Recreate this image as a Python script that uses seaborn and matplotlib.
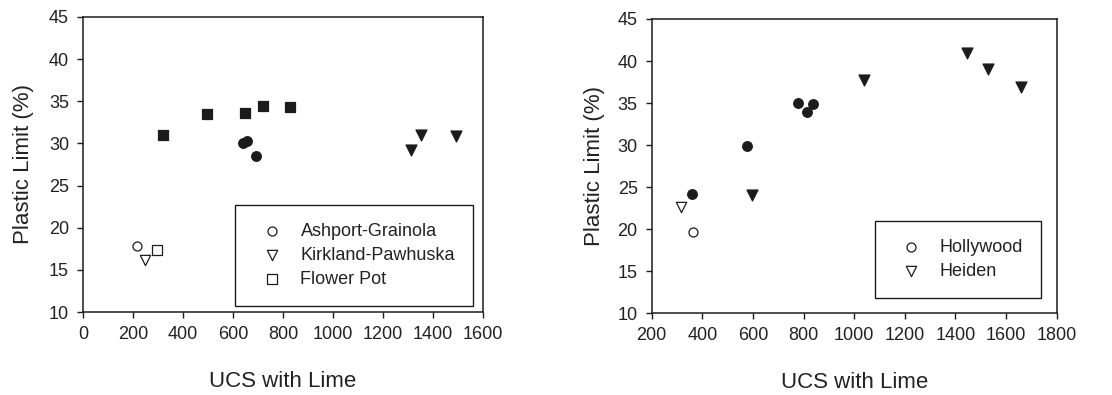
import matplotlib
matplotlib.use("Agg")
import matplotlib.pyplot as plt
import seaborn as sns

# Left panel: Ashport-Grainola, Kirkland-Pawhuska, Flower Pot
ag_raw_x = [215]
ag_raw_y = [17.8]
kp_raw_x = [250]
kp_raw_y = [16.2]
fp_raw_x = [295]
fp_raw_y = [17.3]

ag_lime_x = [641, 657, 692]
ag_lime_y = [30.1, 30.3, 28.5]
kp_lime_x = [1312, 1351, 1492]
kp_lime_y = [29.2, 31.0, 30.9]
fp_lime_x = [321, 497, 648, 719, 828]
fp_lime_y = [31.0, 33.5, 33.6, 34.4, 34.3]

# Right panel: Hollywood, Heiden
hw_raw_x = [364]
hw_raw_y = [19.7]
hd_raw_x = [315]
hd_raw_y = [22.7]

hw_lime_x = [360, 575, 779, 813, 839]
hw_lime_y = [24.2, 29.9, 35.0, 33.9, 34.85]
hd_lime_x = [595, 1039, 1447, 1527, 1660]
hd_lime_y = [24.1, 37.75, 40.9, 39.1, 36.9]

left_xticks = [0, 200, 400, 600, 800, 1000, 1200, 1400, 1600]
right_xticks = [200, 400, 600, 800, 1000, 1200, 1400, 1600, 1800]
yticks = [10, 15, 20, 25, 30, 35, 40, 45]

x_label = "UCS with Lime"
y_label = "Plastic Limit (%)"

sns.set_style("ticks")
plt.rcParams["font.family"] = ["Liberation Sans", "DejaVu Sans"]

INK = "#1c1c1c"
fig = plt.figure(figsize=(11.12, 3.95), dpi=100)
ax1 = fig.add_axes([0.0746, 0.2101, 0.3598, 0.7469])
ax2 = fig.add_axes([0.5860, 0.2068, 0.3643, 0.7451])

def pts(ax, x, y, marker, filled, size, label=None):
    sns.scatterplot(x=x, y=y, ax=ax, marker=marker, s=size,
                    color=INK if filled else "white",
                    edgecolor=INK, linewidth=0.9, label=label, zorder=3)

# filled markers: lime-treated samples
pts(ax1, ag_lime_x, ag_lime_y, "o", True, 48)
pts(ax1, kp_lime_x, kp_lime_y, "v", True, 62)
pts(ax1, fp_lime_x, fp_lime_y, "s", True, 52)
# open markers: untreated samples
pts(ax1, ag_raw_x, ag_raw_y, "o", False, 42, "Ashport-Grainola")
pts(ax1, kp_raw_x, kp_raw_y, "v", False, 55, "Kirkland-Pawhuska")
pts(ax1, fp_raw_x, fp_raw_y, "s", False, 46, "Flower Pot")

pts(ax2, hw_lime_x, hw_lime_y, "o", True, 48)
pts(ax2, hd_lime_x, hd_lime_y, "v", True, 62)
pts(ax2, hw_raw_x, hw_raw_y, "o", False, 42, "Hollywood")
pts(ax2, hd_raw_x, hd_raw_y, "v", False, 55, "Heiden")

for ax, xt, anchor, ypad in ((ax1, left_xticks, (0.975, 0.02), 11),
                             (ax2, right_xticks, (0.961, 0.052), 9)):
    ax.set_xlim(xt[0], xt[-1])
    ax.set_ylim(yticks[0], yticks[-1])
    ax.set_xticks(xt)
    ax.set_yticks(yticks)
    ax.tick_params(axis="both", direction="out", length=4, width=1,
                   color=INK, labelcolor="#222222", labelsize=13, pad=6)
    for sp in ax.spines.values():
        sp.set_visible(True)
        sp.set_color(INK)
        sp.set_linewidth(1.1)
    ax.set_xlabel(x_label, fontsize=16, color="#222222", labelpad=20)
    ax.set_ylabel(y_label, fontsize=16, color="#222222", labelpad=ypad)
    leg = ax.legend(loc="lower right", bbox_to_anchor=anchor, fontsize=13,
                    frameon=True, fancybox=False, borderpad=1.0,
                    labelspacing=0.4, handletextpad=0.6, handlelength=2.0,
                    borderaxespad=0.0)
    frame = leg.get_frame()
    frame.set_edgecolor(INK)
    frame.set_linewidth(1.0)
    frame.set_alpha(1)
    for t in leg.get_texts():
        t.set_color("#222222")

fig.savefig("out.png", dpi=100)
